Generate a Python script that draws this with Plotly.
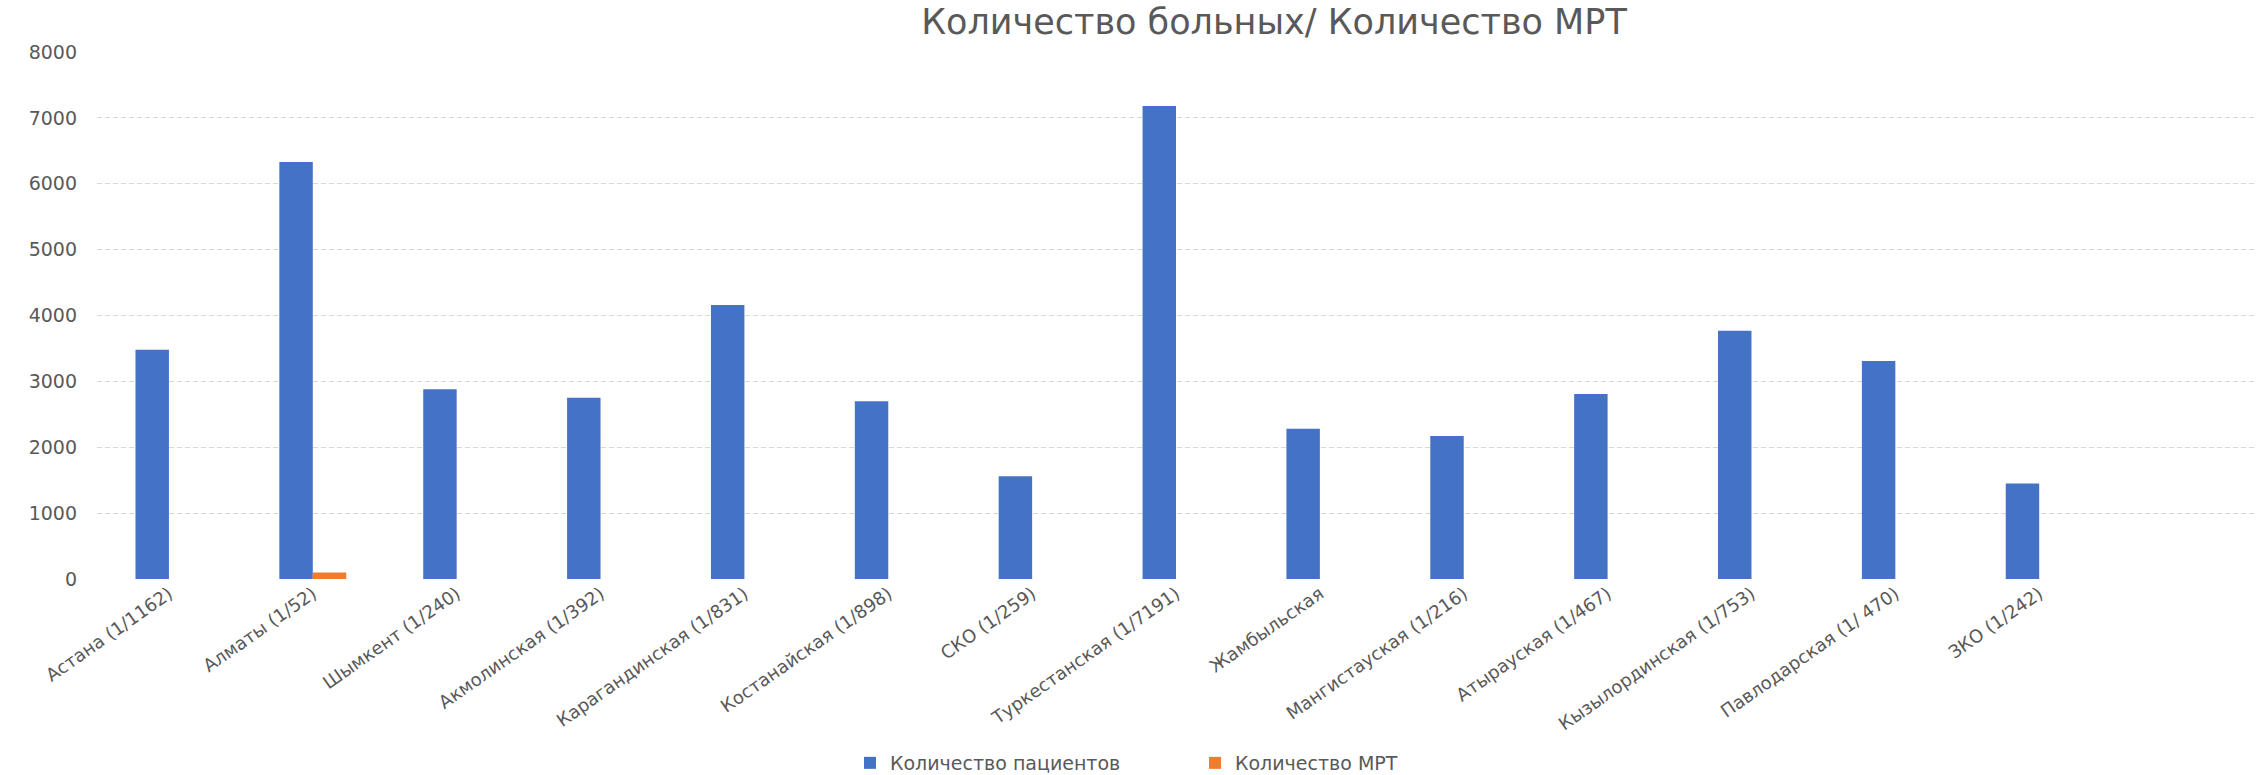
import plotly.graph_objects as go

categories = [
    "Астана (1/1162)",
    "Алматы (1/52)",
    "Шымкент (1/240)",
    "Акмолинская (1/392)",
    "Карагандинская (1/831)",
    "Костанайская (1/898)",
    "СКО (1/259)",
    "Туркестанская (1/7191)",
    "Жамбыльская",
    "Мангистауская (1/216)",
    "Атырауская (1/467)",
    "Кызылординская (1/753)",
    "Павлодарская (1/ 470)",
    "ЗКО (1/242)",
]

patients = [3480, 6330, 2880, 2750, 4160, 2700, 1560, 7180, 2280, 2170, 2810, 3770, 3310, 1450]
mri = [None, 100, None, None, None, None, None, None, None, None, None, None, None, None]

y_ticks = [0, 1000, 2000, 3000, 4000, 5000, 6000, 7000, 8000]

title_text = "Количество больных/ Количество МРТ"
series_names = ["Количество пациентов", "Количество МРТ"]

FONT = "DejaVu Sans"
GRAY = "#595959"

fig = go.Figure()
fig.add_trace(go.Bar(x=categories, y=patients, name=series_names[0],
                     marker=dict(color="#4472C4", line=dict(width=0))))
fig.add_trace(go.Bar(x=categories, y=mri, name=series_names[1],
                     marker=dict(color="#ED7D31", line=dict(width=0))))

W, H = 2262, 775
L, R, T, B = 97, 7, 52, 196

fig.update_layout(
    width=W, height=H,
    margin=dict(l=L, r=R, t=T, b=B, autoexpand=False),
    paper_bgcolor="white", plot_bgcolor="white",
    barmode="group", bargap=0.535, bargroupgap=0,
    font=dict(family=FONT, color=GRAY, size=16),
    title=dict(text=title_text, x=1274 / W, xref="container", xanchor="center",
               y=1 - 22 / H, yref="container", yanchor="middle",
               font=dict(family=FONT, size=35, color=GRAY)),
    legend=dict(orientation="h", x=(850 - L) / (W - L - R), xanchor="left",
                y=(579 - 763) / (579 - 52), yanchor="middle",
                bgcolor="rgba(0,0,0,0)",
                font=dict(family=FONT, size=19, color=GRAY),
                itemwidth=30, entrywidth=300, entrywidthmode="pixels",
                traceorder="normal"),
    xaxis=dict(type="category", range=[-0.5, 14.5], tickangle=-35,
               showgrid=False, showline=False, ticks="",
               tickfont=dict(family=FONT, size=18, color=GRAY)),
    yaxis=dict(range=[0, 8000], tickvals=y_ticks, showgrid=True,
               gridcolor="#d9d9d9", griddash="5px,3px", gridwidth=1,
               zeroline=False, showline=False, ticks="",
               ticklabelstandoff=19,
               tickfont=dict(family=FONT, size=19, color=GRAY)),
)

fig.write_html("out.html")
